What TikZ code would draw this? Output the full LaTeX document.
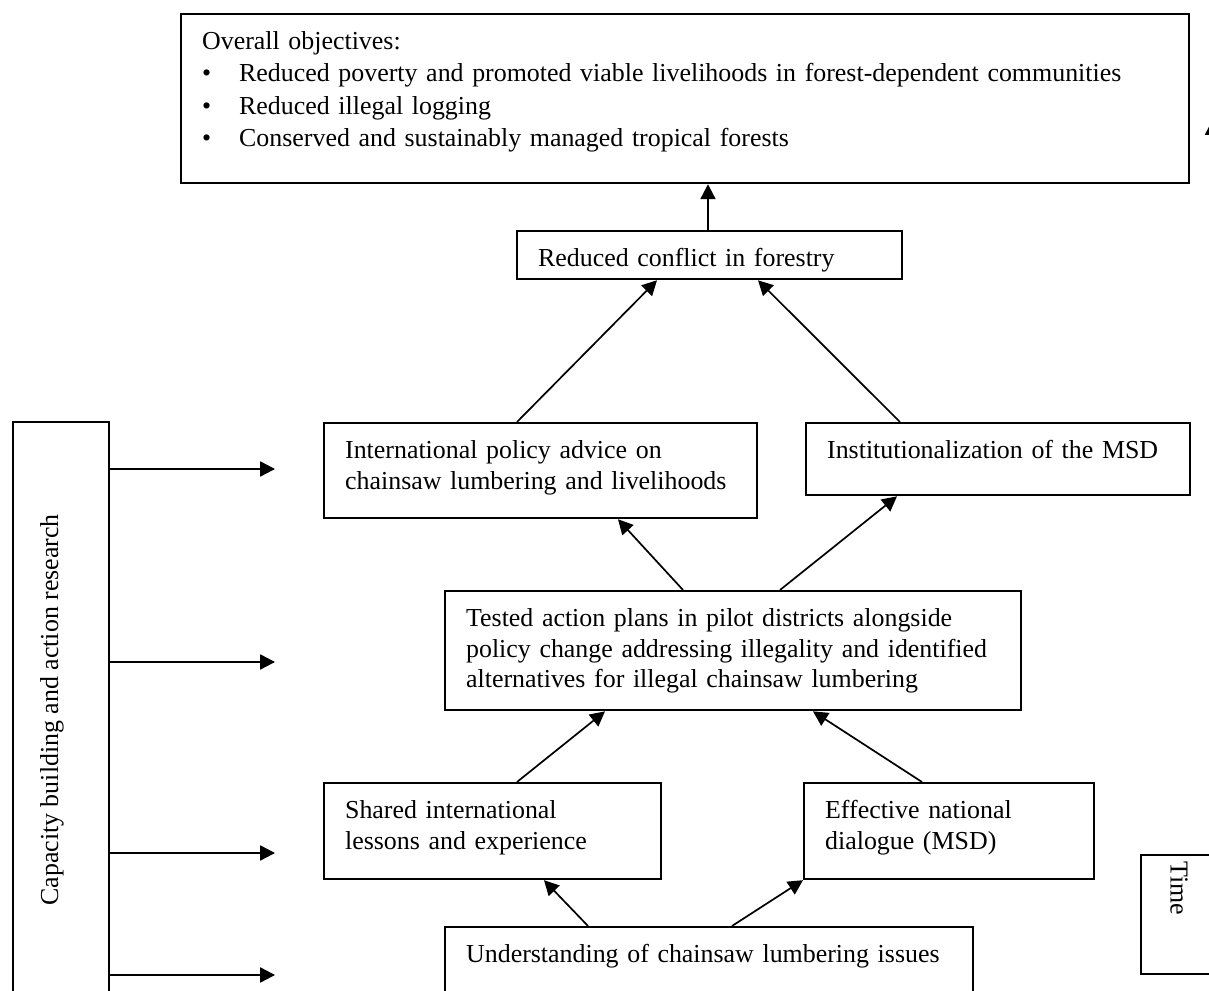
\documentclass[tikz,border=0pt]{standalone}
\usepackage{fontspec}
\setmainfont{Liberation Serif}
\usetikzlibrary{arrows.meta,calc}

\begin{document}
\begin{tikzpicture}[x=0.44pt, y=-0.44pt, font=\fontsize{11.4}{13.6}\selectfont,
  box/.style={rectangle, draw, line width=1pt, anchor=north west, align=left, inner xsep=9.24pt, inner ysep=0pt, text height=15.4pt},
  frame/.style={rectangle, draw, line width=1pt, anchor=north west, inner sep=0pt},
  arr/.style={-{Triangle[length=6.5pt, width=6.6pt]}, line width=0.75pt}]
  \useasboundingbox (0,0) rectangle (1209,991);
  \clip (0,0) rectangle (1209,991);
  \node[box, text width=425pt, text depth=58.96pt, font=\fontsize{11.4}{14.3}\selectfont] (obj) at (180,13) {Overall objectives:\\
    \makebox[16.3pt][l]{\textbullet}Reduced poverty and promoted viable livelihoods in forest-dependent communities\\
    \makebox[16.3pt][l]{\textbullet}Reduced illegal logging\\
    \makebox[16.3pt][l]{\textbullet}Conserved and sustainably managed tropical forests};
  \node[box, text width=150.9pt, text depth=5.72pt] (conflict) at (516,230) {Reduced conflict in forestry};
  \node[box, text width=172pt, text depth=26.4pt] (intl) at (323,422) {International policy advice on\\chainsaw lumbering and livelihoods};
  \node[box, text width=150.5pt, text depth=16.3pt] (inst) at (805,422) {Institutionalization of the MSD};
  \node[box, text width=235pt, text depth=37pt] (tested) at (444,590) {Tested action plans in pilot districts alongside\\policy change addressing illegality and identified\\alternatives for illegal chainsaw lumbering};
  \node[box, text width=129.8pt, text depth=26.8pt] (shared) at (323,782) {Shared international\\lessons and experience};
  \node[box, text width=109.1pt, text depth=26.8pt] (effect) at (803,782) {Effective national\\dialogue (MSD)};
  \node[box, text width=213.8pt, text depth=21.6pt] (under) at (444,926) {Understanding of chainsaw lumbering issues};
  \node[frame, minimum width=42.24pt, minimum height=259.2pt] (cap) at (12,421) {};
  \node[rotate=90] (captext) at (52,710) {Capacity building and action research};
  \node[frame, minimum width=39.6pt, minimum height=52.36pt] (time) at (1140,854) {};
  \node[rotate=-90] (timetext) at (1179,888) {Time};
  \draw[arr] ($(conflict.north west)+(192,0)$) -- ($(obj.south west)+(528,0)$);
  \draw[arr] ($(intl.north west)+(194,0)$) -- ($(conflict.south west)+(141,0)$);
  \draw[arr] ($(inst.north west)+(95,0)$) -- ($(conflict.south west)+(242,0)$);
  \draw[arr] ($(tested.north west)+(239,0)$) -- ($(intl.south west)+(295,0)$);
  \draw[arr] ($(tested.north west)+(336,0)$) -- ($(inst.south west)+(92,0)$);
  \draw[arr] ($(shared.north west)+(194,0)$) -- ($(tested.south west)+(161,0)$);
  \draw[arr] ($(effect.north west)+(119,0)$) -- ($(tested.south west)+(369,0)$);
  \draw[arr] ($(under.north west)+(144,0)$) -- ($(shared.south west)+(221,0)$);
  \draw[arr] ($(under.north west)+(288,0)$) -- (effect.south west);
  \foreach \y/\n in {469/1, 662/2, 853/3, 975/4} {
    \coordinate (in\n) at (275,\y);
    \draw[arr] (cap.east |- in\n) -- (in\n);
  }
  \coordinate (tfoot) at (1212.5,700);
  \coordinate (ttop) at (1212.5,120);
  \draw[arr] (tfoot) -- (ttop);
\end{tikzpicture}
\end{document}
